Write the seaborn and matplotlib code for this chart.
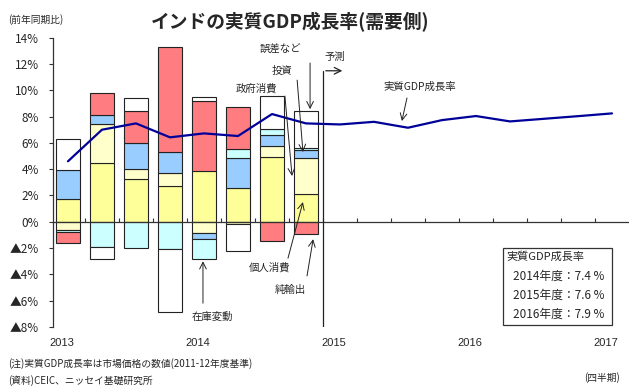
import numpy as np
import pandas as pd
import matplotlib.pyplot as plt
import matplotlib.transforms as mtransforms
import seaborn as sns

sns.set_theme(style='white')
plt.rcParams['font.family'] = ['Noto Sans CJK JP', 'DejaVu Sans']

# 需要項目別寄与度（2013Q1〜2014Q4）
cons = [1.7, 4.45, 3.25, 2.74, 3.88, 2.54, 4.94, 2.1]      # 個人消費
gov = [-0.6, 2.95, 0.73, 0.94, -0.84, -0.2, 0.82, 2.77]    # 政府消費
inv = [2.2, 0.7, 1.98, 1.64, -0.45, 2.28, 0.84, 0.58]      # 投資
stock = [-0.2, -1.9, -1.98, -2.05, -1.52, 0.71, 0.45, 0.13]  # 在庫変動
nx = [-0.85, 1.7, 2.44, 7.98, 5.3, 3.17, -1.44, -0.96]     # 純輸出
err = [2.4, -0.9, 1.03, -4.82, 0.32, -2.0, 2.53, 2.84]     # 誤差など

# 実質GDP成長率（2013Q1〜2017Q1、2015Q1以降は予測）
gdp = [4.6, 7.0, 7.48, 6.42, 6.72, 6.52, 8.19, 7.48,
       7.4, 7.6, 7.15, 7.73, 8.04, 7.63, 7.83, 8.03, 8.24]

years = ['2013', '2014', '2015', '2016', '2017']
year_pos = [0, 4, 8, 12, 16]
yticks = [-8, -6, -4, -2, 0, 2, 4, 6, 8, 10, 12, 14]
ylabels = ['▲8%', '▲6%', '▲4%', '▲2%', '0%', '2%', '4%', '6%', '8%', '10%', '12%', '14%']
fy_labels = ['2014年度：7.4 %', '2015年度：7.6 %', '2016年度：7.9 %']

components = [cons, gov, inv, stock, nx, err]
colors = ['#FFFF99', '#FFFFCC', '#99CCFF', '#CCFFFF', '#FF7C80', '#FFFFFF']
num_font = ['Liberation Sans', 'Noto Sans CJK JP']

fig = plt.figure(figsize=(6.29, 3.9), dpi=100)
ax = fig.add_axes([0.0843, 0.1615, 0.9157, 0.742])

x = np.arange(len(cons))
pos_base = np.zeros(len(cons))
neg_base = np.zeros(len(cons))
for vals, c in zip(components, colors):
    v = np.array(vals)
    bottom = np.where(v >= 0, pos_base, neg_base)
    ax.bar(x, v, bottom=bottom, width=0.68, color=c, edgecolor='#222222', linewidth=0.8, zorder=2)
    pos_base += np.where(v >= 0, v, 0)
    neg_base += np.where(v < 0, v, 0)

df = pd.DataFrame({'q': np.arange(len(gdp)), 'gdp': gdp})
sns.lineplot(data=df, x='q', y='gdp', ax=ax, color='#000099', linewidth=1.6, zorder=3)

ax.set_xlim(-0.44, 16.5)
ax.set_ylim(-8, 14)
ax.set_xlabel('')
ax.set_ylabel('')

for s in ['top', 'right']:
    ax.spines[s].set_visible(False)
ax.spines['left'].set_color('#333333')
ax.spines['left'].set_linewidth(0.9)
ax.spines['bottom'].set_position(('data', 0))
ax.spines['bottom'].set_color('#333333')
ax.spines['bottom'].set_linewidth(0.9)

ax.set_yticks(yticks)
ax.set_yticklabels(ylabels, fontsize=8.5)
ax.tick_params(axis='y', direction='out', length=3, width=0.8, color='#333333', pad=7, left=True)
ax.set_xticks(np.arange(16) + 0.5)
ax.set_xticklabels([])
ax.tick_params(axis='x', direction='in', length=3, width=0.8, color='#333333', bottom=True)

# 年ラベル
trans = mtransforms.blended_transform_factory(ax.transData, fig.transFigure)
for p, yl in zip(year_pos, years):
    ax.text(p - 0.18, 1 - 343 / 390, yl, transform=trans, ha='center', va='center',
            fontsize=8, family=num_font)

# 予測の区切り
ax.plot([7.5, 7.5], [-8, 11.48], color='#222222', linewidth=0.9, zorder=4)
ax.annotate('', xy=(8.15, 11.48), xytext=(7.5, 11.48),
            arrowprops=dict(arrowstyle='->', color='#222222', lw=0.9))
ax.text(7.85, 12.5, '予測', ha='center', va='center', fontsize=7.5)

arrow = dict(arrowstyle='->', color='#222222', lw=0.7, shrinkA=0, shrinkB=0)
notes = [
    ('政府消費', (5.53, 10.17), (6.38, 9.56), (6.59, 3.48)),
    ('投資', (6.29, 11.45), (6.74, 10.77), (6.91, 5.3)),
    ('誤差など', (6.26, 13.06), (7.12, 12.07), (7.12, 8.56)),
    ('実質GDP成長率', (10.35, 10.24), (9.97, 9.41), (9.82, 7.66)),
    ('個人消費', (5.94, -3.5), (6.47, -2.77), (6.91, 1.5)),
    ('純輸出', (6.53, -5.2), (7.03, -4.12), (7.21, -1.32)),
    ('在庫変動', (4.26, -7.25), (3.97, -6.19), (3.97, -3.0)),
]
for label, tpos, start, end in notes:
    ax.text(tpos[0], tpos[1], label, ha='center', va='center', fontsize=7.5, zorder=5)
    ax.annotate('', xy=end, xytext=start, arrowprops=arrow, zorder=5)

# 年度平均の枠
fig.patches.append(plt.Rectangle((503 / 629, 1 - 325 / 390), 109 / 629, 77 / 390,
                                 transform=fig.transFigure, fill=False,
                                 edgecolor='#333333', linewidth=0.9))
fig.text(506 / 629, 1 - 257 / 390, '実質GDP成長率', fontsize=8, va='center', ha='left')
for i, t in enumerate(fy_labels):
    fig.text(513 / 629, 1 - (276 + 19 * i) / 390, t, fontsize=8.5, va='center', ha='left')

fig.text(290 / 629, 1 - 22 / 390, 'インドの実質GDP成長率(需要側)', fontsize=13.5,
         fontweight='bold', ha='center', va='center')
fig.text(8 / 629, 1 - 20 / 390, '(前年同期比)', fontsize=7, ha='left', va='center')
fig.text(8 / 629, 1 - 364 / 390, '(注)実質GDP成長率は市場価格の数値(2011-12年度基準)',
         fontsize=7, ha='left', va='center')
fig.text(8 / 629, 1 - 381 / 390, '(資料)CEIC、ニッセイ基礎研究所', fontsize=7, ha='left', va='center')
fig.text(620 / 629, 1 - 378 / 390, '(四半期)', fontsize=7, ha='right', va='center')

fig.savefig('out.png', dpi=100)
